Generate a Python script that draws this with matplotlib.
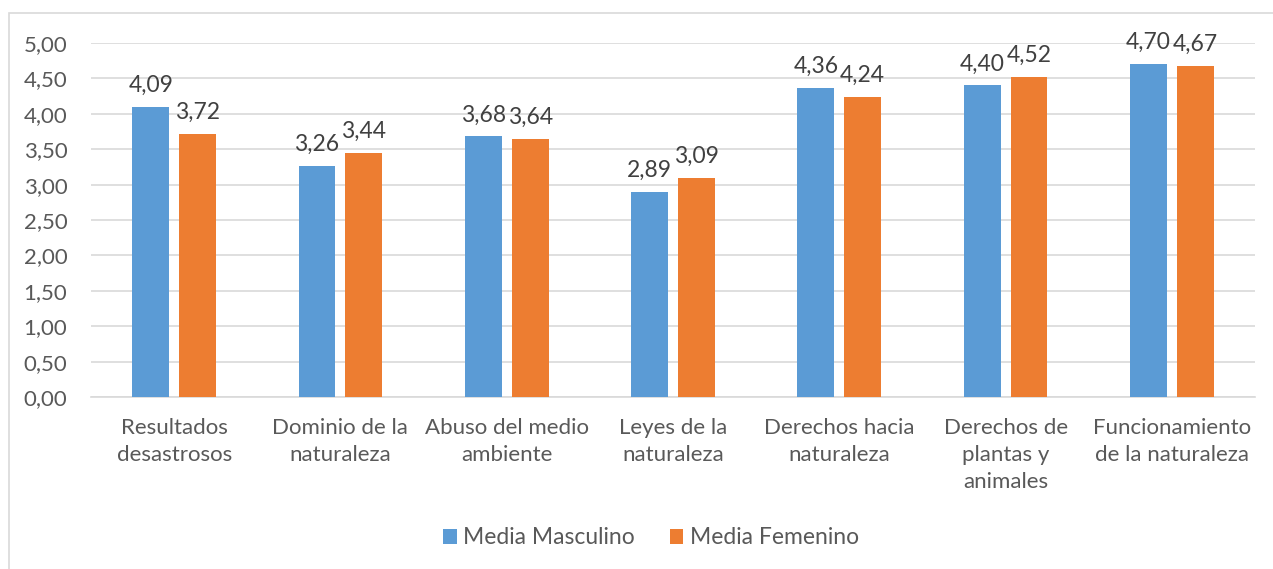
import numpy as np
import matplotlib
matplotlib.use("Agg")
import matplotlib.pyplot as plt
from matplotlib.patches import Rectangle

# data
categories = ["Resultados\ndesastrosos", "Dominio de la\nnaturaleza", "Abuso del medio\nambiente",
              "Leyes de la\nnaturaleza", "Derechos hacia\nnaturaleza", "Derechos de\nplantas y\nanimales",
              "Funcionamiento\nde la naturaleza"]
media_masculino = [4.09, 3.26, 3.68, 2.89, 4.36, 4.40, 4.70]
media_femenino = [3.72, 3.44, 3.64, 3.09, 4.24, 4.52, 4.67]
series_names = ["Media Masculino", "Media Femenino"]

plt.rcParams['font.family'] = ['Lato', 'DejaVu Sans']
txt = "#595959"
blue = "#5b9bd5"
orange = "#ed7d31"

fig = plt.figure(figsize=(12.73, 5.69), dpi=100)
ax = fig.add_axes([91/1273, 1-397/569, (1255-91)/1273, (397-43)/569])

# chart border
fig.patches.append(Rectangle((9/1273, -0.05), 1.0, 1-13/569+0.05, transform=fig.transFigure,
                             fill=False, edgecolor="#d9d9d9", linewidth=1.2))

x = np.arange(len(categories))
w = 0.222
off = 0.141
b1 = ax.bar(x - off, media_masculino, w, color=blue, label=series_names[0], zorder=3)
b2 = ax.bar(x + off, media_femenino, w, color=orange, label=series_names[1], zorder=3)

for bars, vals in ((b1, media_masculino), (b2, media_femenino)):
    for r, v in zip(bars, vals):
        ax.annotate(f"{v:.2f}".replace(".", ","), (r.get_x() + r.get_width()/2, v),
                    xytext=(0, 8), textcoords="offset points", ha="center", va="bottom",
                    fontsize=16.5, color="#404040")

ax.set_xlim(-0.5, len(categories) - 0.5)
ax.set_ylim(0, 5)
yt = np.arange(0, 5.01, 0.5)
ax.set_yticks(yt)
ax.set_yticklabels([f"{t:.2f}".replace(".", ",") for t in yt], fontsize=16, color=txt)
ax.set_xticks(x)
ax.set_xticklabels(categories, fontsize=16, color=txt, linespacing=1.45, va="top")
ax.tick_params(axis="both", length=0)
ax.tick_params(axis="y", pad=17)
ax.tick_params(axis="x", pad=15)
ax.grid(axis="y", color="#d9d9d9", linewidth=1.2, zorder=0)
for s in ("top", "right", "left"):
    ax.spines[s].set_visible(False)
ax.spines["bottom"].set_color("#d9d9d9")
ax.spines["bottom"].set_linewidth(1.2)

fig.legend(handles=[b1, b2], labels=series_names, loc="center", bbox_to_anchor=(651/1273, 1-538/569),
           ncol=2, frameon=False, fontsize=16.5, labelcolor=txt, handlelength=0.6, handleheight=0.6,
           handletextpad=0.3, columnspacing=1.5)

fig.savefig("out.png", dpi=100)
